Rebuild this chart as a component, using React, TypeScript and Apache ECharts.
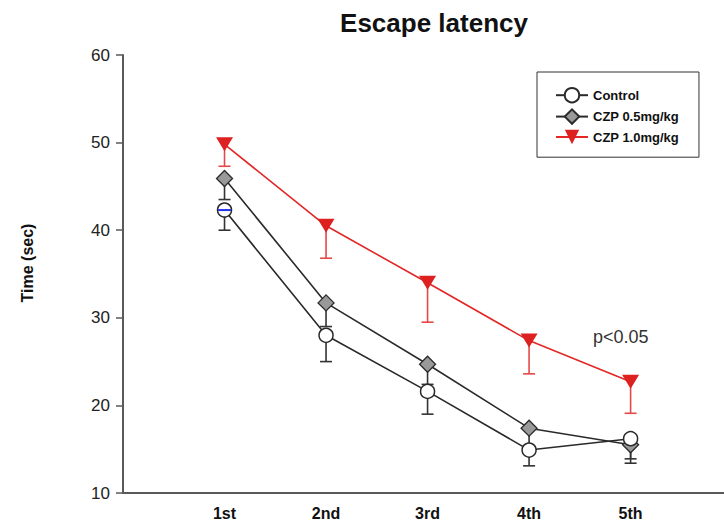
import React, { useEffect, useRef } from "react";
import * as echarts from "echarts";

const categories = ["1st", "2nd", "3rd", "4th", "5th"];
const positions = [1, 2, 3, 4, 5];
const controlMean = [42.3, 28.0, 21.6, 14.9, 16.2];
const controlLow = [40.0, 25.0, 19.0, 13.1, 13.4];
const czp05Mean = [45.9, 31.7, 24.7, 17.4, 15.5];
const czp05Low = [43.5, 29.0, 22.4, 15.4, 13.9];
const czp10Mean = [49.8, 40.5, 34.0, 27.4, 22.7];
const czp10Low = [47.3, 36.8, 29.5, 23.6, 19.1];
const yTicks = [10, 20, 30, 40, 50, 60];

const FONT = "'Liberation Sans', Arial, Helvetica, sans-serif";

function errSeries(name: string, mean: number[], low: number[], color: string) {
  return {
    type: "custom",
    name: name + "-err",
    z: 1,
    silent: true,
    encode: { x: 0, y: [1, 2] },
    data: positions.map((p, i) => [p, mean[i], low[i]]),
    renderItem: (params: any, api: any) => {
      const x = api.value(0);
      const p1 = api.coord([x, api.value(1)]);
      const p2 = api.coord([x, api.value(2)]);
      const hw = 6;
      return {
        type: "group",
        children: [
          { type: "line", shape: { x1: p1[0], y1: p1[1], x2: p2[0], y2: p2[1] }, style: { stroke: color, lineWidth: 1.6 } },
          { type: "line", shape: { x1: p2[0] - hw, y1: p2[1], x2: p2[0] + hw, y2: p2[1] }, style: { stroke: color, lineWidth: 1.6 } },
        ],
      };
    },
  };
}

export default function App() {
  const ref = useRef<HTMLDivElement>(null);
  useEffect(() => {
    document.body.style.margin = "0";
    const chart = echarts.init(ref.current!, undefined, { renderer: "svg" });
    chart.setOption({
      animation: false,
      backgroundColor: "#ffffff",
      textStyle: { fontFamily: FONT },
      title: {
        text: "Escape latency",
        left: 429,
        top: 5,
        textAlign: "center",
        textStyle: { fontFamily: FONT, fontSize: 26, fontWeight: "bold", color: "#111" },
      },
      legend: {
        orient: "vertical",
        left: 537,
        top: 72,
        padding: [15, 20, 13, 18],
        itemGap: 5,
        itemWidth: 32,
        itemHeight: 18,
        borderColor: "#333",
        borderWidth: 1,
        data: ["Control", "CZP 0.5mg/kg", "CZP 1.0mg/kg"],
        textStyle: { fontFamily: FONT, fontSize: 13, fontWeight: "bold", color: "#111" },
      },
      grid: { left: 123, top: 55, right: 0, height: 438, containLabel: false },
      xAxis: {
        type: "value",
        min: 0,
        max: 5.92,
        interval: 1,
        splitLine: { show: false },
        axisTick: { show: false },
        axisLine: { lineStyle: { color: "#5a5a5a", width: 2 } },
        axisLabel: {
          margin: 12,
          showMaxLabel: false,
          fontFamily: FONT,
          fontSize: 16,
          fontWeight: "bold",
          color: "#111",
          formatter: (v: number) => categories[Math.round(v) - 1] ?? "",
        },
      },
      yAxis: {
        type: "value",
        min: yTicks[0],
        max: yTicks[yTicks.length - 1],
        interval: 10,
        splitLine: { show: false },
        axisLine: { show: true, lineStyle: { color: "#5a5a5a", width: 2 } },
        axisTick: { show: true, length: 7, lineStyle: { color: "#5a5a5a", width: 1.5 } },
        axisLabel: { margin: 13, fontFamily: FONT, fontSize: 17, color: "#222" },
      },
      graphic: [
        {
          type: "text",
          x: 27,
          y: 263,
          rotation: Math.PI / 2,
          style: {
            text: "Time (sec)",
            fontFamily: FONT,
            fontSize: 16,
            fontWeight: "bold",
            fill: "#111",
            textAlign: "center",
            textVerticalAlign: "middle",
          },
        },
        {
          type: "text",
          x: 593,
          y: 337,
          style: {
            text: "p<0.05",
            fontFamily: FONT,
            fontSize: 18,
            fill: "#333",
            textAlign: "left",
            textVerticalAlign: "middle",
          },
        },
      ],
      series: [
        errSeries("CZP 1.0mg/kg", czp10Mean, czp10Low, "#e54848"),
        errSeries("CZP 0.5mg/kg", czp05Mean, czp05Low, "#333"),
        errSeries("Control", controlMean, controlLow, "#333"),
        {
          type: "line",
          name: "CZP 1.0mg/kg",
          z: 3,
          data: positions.map((p, i) => [p, czp10Mean[i]]),
          symbol: "triangle",
          symbolRotate: 180,
          symbolSize: [17, 14],
          lineStyle: { color: "#e32626", width: 1.6 },
          itemStyle: { color: "#dd2020", borderColor: "#dd2020", borderWidth: 0 },
        },
        {
          type: "line",
          name: "CZP 0.5mg/kg",
          z: 3,
          data: positions.map((p, i) => [p, czp05Mean[i]]),
          symbol: "diamond",
          symbolSize: 16,
          lineStyle: { color: "#2a2a2a", width: 1.6 },
          itemStyle: { color: "#999999", borderColor: "#2a2a2a", borderWidth: 1.3 },
        },
        {
          type: "line",
          name: "Control",
          z: 4,
          data: positions.map((p, i) => [p, controlMean[i]]),
          symbol: "circle",
          symbolSize: 14,
          lineStyle: { color: "#2a2a2a", width: 1.6 },
          itemStyle: { color: "#ffffff", borderColor: "#2a2a2a", borderWidth: 1.5 },
        },
        {
          type: "custom",
          name: "marker-line",
          z: 5,
          silent: true,
          encode: { x: 0, y: 1 },
          data: [[positions[0], controlMean[0]]],
          renderItem: (params: any, api: any) => {
            const p = api.coord([api.value(0), api.value(1)]);
            return {
              type: "line",
              shape: { x1: p[0] - 6.5, y1: p[1], x2: p[0] + 6.5, y2: p[1] },
              style: { stroke: "#2233ee", lineWidth: 2 },
            };
          },
        },
      ],
    });
    return () => chart.dispose();
  }, []);
  return <div ref={ref} style={{ width: 724, height: 523 }} />;
}
